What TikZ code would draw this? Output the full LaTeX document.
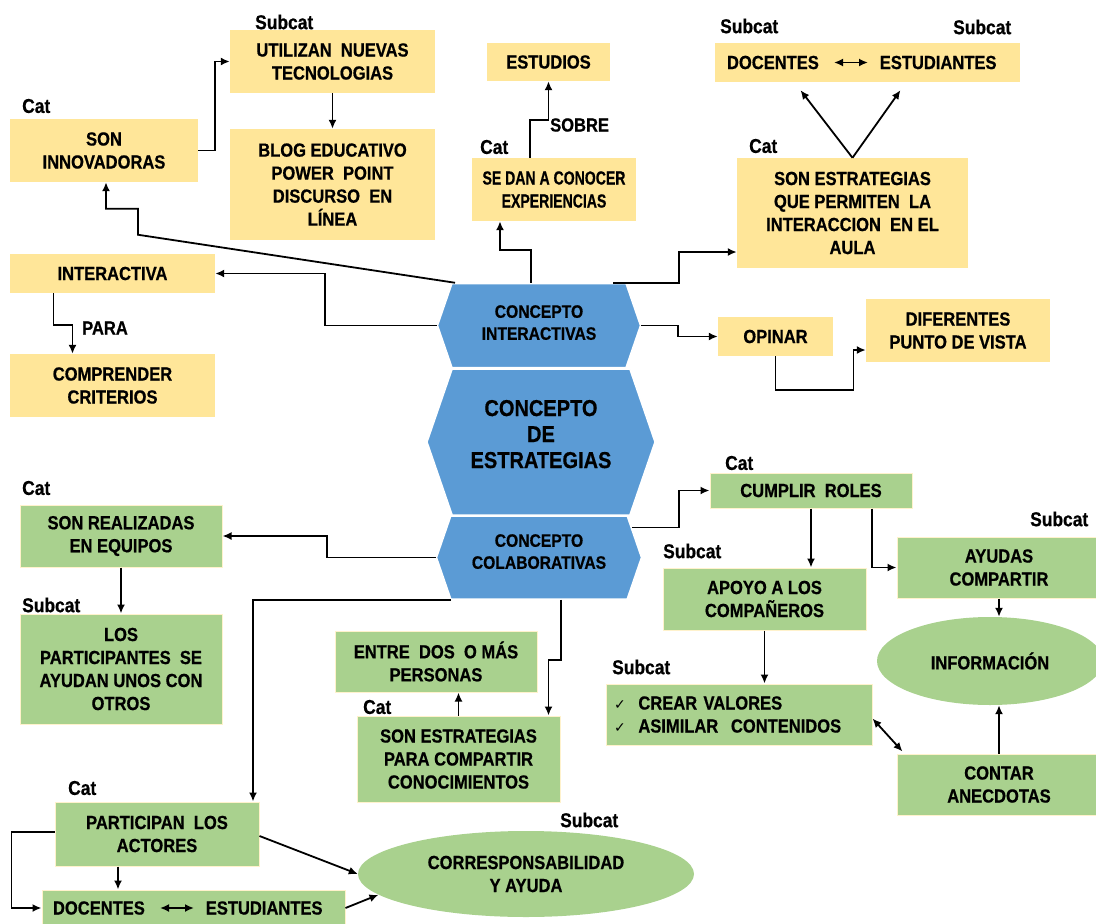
\documentclass[tikz,border=0pt]{standalone}
\usepackage{fontspec}
\setmainfont{Liberation Sans}[FakeStretch=0.87]
\newfontfamily\gruesa{Liberation Sans Bold}[FakeStretch=0.87, FakeBold=0.6]
\newfontfamily\gruesaest{Liberation Sans Bold}[FakeStretch=0.74, FakeBold=0.6]
\newfontfamily\symfont{DejaVu Sans}
\usetikzlibrary{arrows.meta,shapes.symbols,shapes.geometric}

\definecolor{cajaam}{HTML}{FFE699}
\definecolor{cajave}{HTML}{A9D18E}
\definecolor{borde}{HTML}{FFF2CC}
\definecolor{hexaz}{HTML}{5B9BD5}

\tikzset{
  caja/.style 2 args={minimum width=#1pt, minimum height=#2pt, inner sep=0pt,
    align=center, font=\gruesa\fontsize{19}{23}\selectfont},
  amar/.style 2 args={caja={#1}{#2}, fill=cajaam},
  verde/.style 2 args={caja={#1}{#2}, fill=cajave, draw=borde, line width=1pt},
  elip/.style 2 args={ellipse, minimum width=#1pt, minimum height=#2pt, inner sep=0pt,
    fill=cajave, align=center, font=\gruesa\fontsize{19}{23}\selectfont},
  hexa/.style 2 args={signal, signal to=east and west, signal pointer angle=142,
    minimum width=#1pt, minimum height=#2pt, inner sep=0pt, fill=hexaz,
    draw=white, line width=1.5pt, align=center},
  parejas/.style={text width=281pt, align=left},
  etiq/.style={anchor=west, inner sep=0pt, font=\gruesa\fontsize{20}{23}\selectfont},
  con/.style={line width=1.8pt, ->},
  doble/.style={line width=1.8pt, <->}
}
\newcommand\visto{{\symfont\fontsize{14}{23}\selectfont ✓}}

\begin{document}
\begin{tikzpicture}[x=1pt,y=-1pt,>={Latex[length=9pt,width=8pt]}]
  \useasboundingbox (0,0) rectangle (1096,924);

  % Concepto central
  \node[hexa={203}{84}, text depth=6pt, font=\gruesa\fontsize{18}{22}\selectfont] (hexi) at (539,325.5) {CONCEPTO\\INTERACTIVAS};
  \node[hexa={228}{146}, text depth=16pt, font=\gruesa\fontsize{23}{26}\selectfont] (hexe) at (541,442) {CONCEPTO\\DE\\ESTRATEGIAS};
  \node[hexa={205}{83}, text depth=12pt, font=\gruesa\fontsize{18}{22}\selectfont] (hexc) at (539,557.5) {CONCEPTO\\COLABORATIVAS};

  % Interactivas
  \node[amar={188}{63}] (innov) at (104,150.5) {SON\\INNOVADORAS};
  \node[amar={205}{63}] (utiliz) at (332.5,61.5) {UTILIZAN\ \ NUEVAS\\TECNOLOGIAS};
  \node[amar={205}{111}] (blog) at (332.5,184.5) {BLOG EDUCATIVO\\POWER\ \ POINT\\DISCURSO\ \ EN\\LÍNEA};
  \node[amar={205}{39}] (interact) at (112.5,273.5) {INTERACTIVA};
  \node[amar={205}{63}] (compr) at (112.5,385.5) {COMPRENDER\\CRITERIOS};
  \node[amar={123}{38}] (estud) at (548.5,62) {ESTUDIOS};
  \node[amar={164}{63}, font=\gruesaest\fontsize{19}{23}\selectfont] (sedan) at (554,189.5) {SE\ DAN A CONOCER\\EXPERIENCIAS};
  \node[amar={305}{39}, parejas] (topdoc) at (867.5,62.5) {DOCENTES\hspace{61pt}ESTUDIANTES};
  \node[amar={231}{110}] (sonest) at (852.5,213) {SON ESTRATEGIAS\\QUE PERMITEN\ \ LA\\INTERACCION\ \ EN EL\\AULA};
  \node[amar={115}{39}] (opinar) at (775.5,336.5) {OPINAR};
  \node[amar={184}{63}] (difer) at (958,330.5) {DIFERENTES\\PUNTO\ DE VISTA};

  % Colaborativas
  \node[verde={202}{35}] (cumplir) at (811,490.5) {CUMPLIR\ \ ROLES};
  \node[verde={204}{61}] (ayudas) at (999,567.5) {AYUDAS\\COMPARTIR};
  \node[verde={203}{62}] (apoyo) at (764.5,599) {APOYO A LOS\\COMPAÑEROS};
  \node[elip={226}{88}] (info) at (990,661) {INFORMACIÓN};
  \node[verde={266}{61}, text width=250pt, align=left] (crear) at (739,714.5)
    {\visto\ \ CREAR VALORES\\\visto\ \ ASIMILAR\ \ CONTENIDOS};
  \node[verde={204}{61}] (contar) at (999,784.5) {CONTAR\\ANECDOTAS};
  \node[verde={202}{62}] (sonreal) at (121,536) {SON REALIZADAS\\EN EQUIPOS};
  \node[verde={202}{110}] (lospart) at (121,669) {LOS\\PARTICIPANTES\ \ SE\\AYUDAN UNOS CON\\OTROS};
  \node[verde={202}{61}] (entre) at (436,661.5) {ENTRE\ \ DOS\ \ O MÁS\\PERSONAS};
  \node[verde={203}{86}] (sonpara) at (458.5,759) {SON ESTRATEGIAS\\PARA COMPARTIR\\CONOCIMIENTOS};
  \node[verde={204}{64}] (particip) at (157,834) {PARTICIPAN\ \ LOS\\ACTORES};
  \node[verde={303}{36}, parejas] (botdoc) at (193.5,908) {DOCENTES\hspace{61pt}ESTUDIANTES};
  \node[elip={336}{86}] (corresp) at (526,874) {CORRESPONSABILIDAD\\Y AYUDA};

  % Etiquetas
  \node[etiq] at (255,22) {Subcat};
  \node[etiq] at (22,106) {Cat};
  \node[etiq] at (480,147) {Cat};
  \node[etiq] at (720,26) {Subcat};
  \node[etiq] at (953,27) {Subcat};
  \node[etiq] at (749,146) {Cat};
  \node[etiq] at (725,463) {Cat};
  \node[etiq] at (1030,519) {Subcat};
  \node[etiq] at (663,551) {Subcat};
  \node[etiq] at (612,667) {Subcat};
  \node[etiq] at (22,488) {Cat};
  \node[etiq] at (22,605) {Subcat};
  \node[etiq] at (363,707) {Cat};
  \node[etiq] at (68,788) {Cat};
  \node[etiq] at (560,820) {Subcat};
  \node[etiq, font=\gruesa\fontsize{19}{22}\selectfont] at (550,125) {SOBRE};
  \node[etiq, font=\gruesa\fontsize{19}{22}\selectfont] at (82,328) {PARA};

  % Conectores interactivas
  \draw[con] (innov.east) -- ++(17,0) |- (utiliz.west);
  \draw[con] (utiliz) -- (blog);
  \draw[con] ([xshift=-84pt]hexi.north) -- ++(-317,-48) -- ++(0,-26) -| ([xshift=2pt]innov.south);
  \draw[con] (hexi.west) -- ++(-112,0) |- (interact.east);
  \draw[con] ([xshift=-59pt]interact.south) -- ++(0,32) -| ([xshift=-40pt]compr.north);
  \draw[con] ([xshift=-8pt]hexi.north) -- ++(0,-33) -| ([xshift=-54pt]sedan.south);
  \draw[con] ([xshift=-24pt]sedan.north) -- ++(0,-38) -| (estud.south);
  \draw[con] ([xshift=74pt]hexi.north) -- ++(66,0) |- ([yshift=-39pt]sonest.west);
  \draw[con] (sonest.north) -- ([xshift=-67pt,yshift=-8pt]topdoc.south);
  \draw[con] (sonest.north) -- ([xshift=33pt,yshift=-8pt]topdoc.south);
  \draw[doble] ([xshift=-33.5pt]topdoc.center) -- ([xshift=0.5pt]topdoc.center);
  \draw[con] (hexi.east) -- ++(37,0) |- (opinar.west);
  \draw[con] (opinar.south) -- ++(0,34) -- ++(78,0) |- ([yshift=-19.5pt]difer.west);

  % Conectores colaborativas
  \draw[con] ([xshift=-10pt,yshift=30pt]hexc.east) -- ++(47,0) |- (cumplir.west);
  \draw[con] (cumplir) -- (cumplir |- apoyo.north);
  \draw[con] ([xshift=61pt]cumplir.south) |- (ayudas.west);
  \draw[con] (ayudas.south) -- (ayudas.south |- info.north);
  \draw[con] (apoyo.south) -- (apoyo.south |- crear.north);
  \draw[doble] ([yshift=-4pt]crear.east) -- ([xshift=6pt,yshift=2pt]contar.north west);
  \draw[con] (contar.north) -- (contar.north |- info.south);
  \draw[con] (hexc.west) -- ++(-109,0) |- (sonreal.east);
  \draw[con] (sonreal) -- (lospart);
  \draw[con] ([xshift=-88pt]hexc.south) -| ([xshift=96pt]particip.north);
  \draw[con] ([xshift=22pt]hexc.south) -- ++(0,60) -| ([xshift=90pt]sonpara.north);
  \draw[con] (sonpara.north) -- (sonpara.north |- entre.south);
  \draw[con] ([yshift=2pt]particip.west) -- ++(-43,0) |- (botdoc.west);
  \draw[con] ([xshift=-39pt]particip.south) -- ([xshift=-39pt]particip.south |- botdoc.north);
  \draw[con] ([yshift=-2pt]particip.east) -- (corresp.west);
  \draw[con] (botdoc.east) -- (corresp.188);
  \draw[doble] ([xshift=-33.5pt]botdoc.center) -- ([xshift=0.5pt]botdoc.center);
\end{tikzpicture}
\end{document}
